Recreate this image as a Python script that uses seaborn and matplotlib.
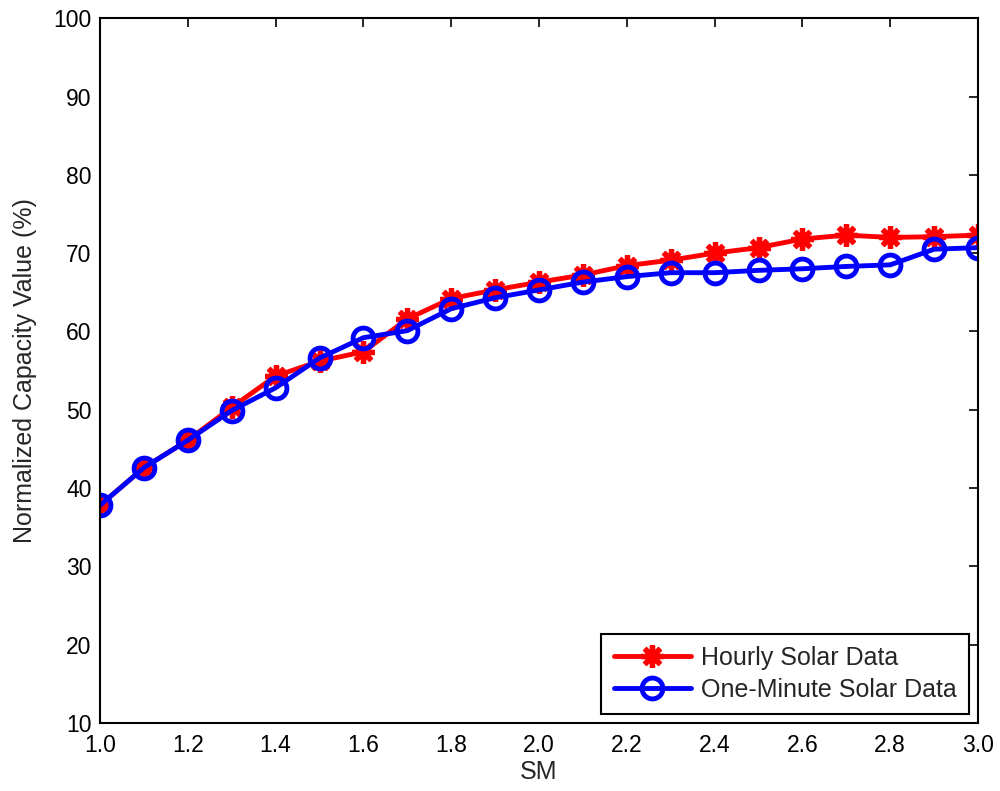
import matplotlib
matplotlib.use("Agg")
import matplotlib.pyplot as plt
import seaborn as sns
import numpy as np

sm = [1.0, 1.1, 1.2, 1.3, 1.4, 1.5, 1.6, 1.7, 1.8, 1.9, 2.0,
      2.1, 2.2, 2.3, 2.4, 2.5, 2.6, 2.7, 2.8, 2.9, 3.0]
hourly = [37.8, 42.6, 46.1, 50.3, 54.3, 56.2, 57.4, 61.6, 64.2, 65.3, 66.3,
          67.2, 68.4, 69.1, 70.0, 70.7, 71.8, 72.3, 72.0, 72.1, 72.3]
one_minute = [37.8, 42.6, 46.1, 49.9, 52.8, 56.6, 59.2, 60.1, 62.9, 64.3, 65.3,
              66.3, 67.0, 67.5, 67.5, 67.8, 68.0, 68.3, 68.5, 70.5, 70.7]
xticks = [1.0, 1.2, 1.4, 1.6, 1.8, 2.0, 2.2, 2.4, 2.6, 2.8, 3.0]
yticks = [10, 20, 30, 40, 50, 60, 70, 80, 90, 100]

sns.set_style("white")
plt.rcParams['font.family'] = ['Liberation Sans', 'DejaVu Sans']

fig = plt.figure(figsize=(10, 7.91), dpi=100)
ax = fig.add_axes([0.100, 0.086, 0.878, 0.891])

sns.lineplot(x=sm, y=hourly, ax=ax, color='#ff0000', linewidth=3.5,
             marker=(8, 2, 0), markersize=16, markeredgewidth=3.8,
             markeredgecolor='#ff0000', label='Hourly Solar Data')
sns.lineplot(x=sm, y=one_minute, ax=ax, color='#0000ff', linewidth=3.5,
             marker='o', markersize=15, markeredgewidth=3.5,
             markerfacecolor='none', markeredgecolor='#0000ff',
             label='One-Minute Solar Data')

ax.set_xlim(1.0, 3.0)
ax.set_ylim(10, 100)
ax.set_xticks(xticks)
ax.set_xticklabels([f"{t:.1f}" for t in xticks])
ax.set_yticks(yticks)
ax.tick_params(direction='in', top=True, right=True, length=6.5, width=1.2,
               labelsize=16.5, colors='black')
ax.tick_params(axis='x', pad=8)
ax.tick_params(axis='y', pad=6)
for s in ax.spines.values():
    s.set_color('black')
    s.set_linewidth(1.5)
ax.set_xlabel('SM', fontsize=18, labelpad=2)
ax.set_ylabel('Normalized Capacity Value (%)', fontsize=18, labelpad=12)

leg = ax.legend(loc='lower right', fontsize=18, frameon=True, fancybox=False,
                edgecolor='black', framealpha=1, handlelength=3.1,
                handletextpad=0.4, borderpad=0.5, labelspacing=0.3,
                borderaxespad=0.35)
leg.get_frame().set_linewidth(1.5)

fig.savefig('out.png', dpi=100)
